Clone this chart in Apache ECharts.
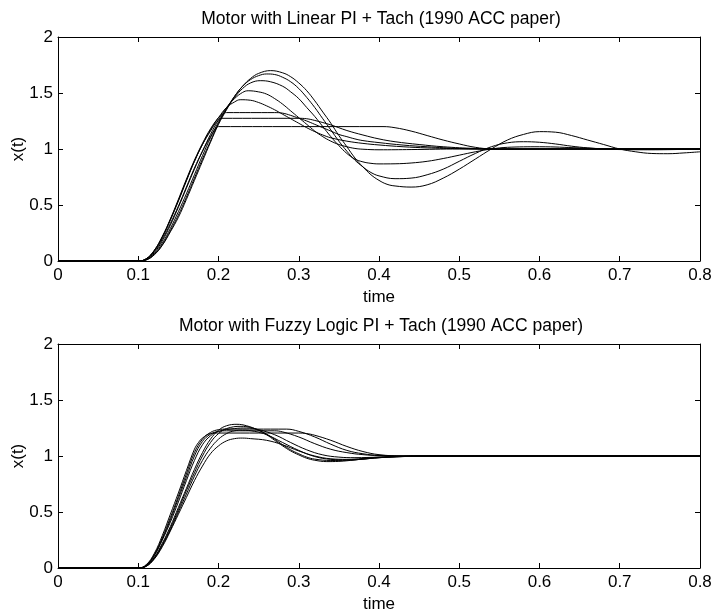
<!DOCTYPE html>
<html>
<head>
<meta charset="utf-8">
<script src="https://cdn.jsdelivr.net/npm/echarts@6/dist/echarts.min.js"></script>
<style>
html,body{margin:0;padding:0;background:#fff;}
#chart{width:726px;height:611px;}
</style>
</head>
<body>
<div id="chart"></div>
<script>
// ---------- Data ----------
const titles = ['Motor with Linear PI + Tach (1990 ACC paper)', 'Motor with Fuzzy Logic PI + Tach (1990 ACC paper)'];
const xLabel = 'time';
const yLabel = 'x(t)';

// Top panel: Linear PI responses, [time, x(t)]
const lin1 = [[0,0],[0.1,0],[0.11,0.01],[0.12,0.055],[0.13,0.14],[0.14,0.26],[0.15,0.39],[0.16,0.55],[0.17,0.72],[0.18,0.89],[0.19,1.06],[0.20,1.22],[0.21,1.35],[0.22,1.47],[0.23,1.56],[0.24,1.63],[0.25,1.675],[0.265,1.70],[0.28,1.68],[0.29,1.645],[0.30,1.59],[0.31,1.52],[0.32,1.43],[0.33,1.33],[0.34,1.23],[0.35,1.12],[0.36,1.02],[0.37,0.92],[0.38,0.84],[0.39,0.77],[0.40,0.72],[0.41,0.685],[0.42,0.67],[0.44,0.66],[0.46,0.68],[0.48,0.74],[0.50,0.82],[0.52,0.91],[0.54,1.0],[0.56,1.08],[0.58,1.13],[0.60,1.155],[0.62,1.15],[0.64,1.12],[0.66,1.08],[0.68,1.04],[0.70,1.0],[0.72,0.975],[0.74,0.96],[0.76,0.958],[0.78,0.965],[0.80,0.975]];
const lin2 = [[0,0],[0.1,0],[0.11,0.01],[0.12,0.058],[0.13,0.145],[0.14,0.27],[0.15,0.41],[0.16,0.57],[0.17,0.74],[0.18,0.91],[0.19,1.07],[0.20,1.23],[0.21,1.36],[0.22,1.47],[0.23,1.56],[0.24,1.62],[0.25,1.655],[0.26,1.67],[0.27,1.665],[0.28,1.64],[0.29,1.60],[0.30,1.54],[0.31,1.46],[0.32,1.37],[0.33,1.27],[0.34,1.17],[0.35,1.07],[0.36,0.98],[0.37,0.90],[0.38,0.84],[0.39,0.79],[0.40,0.76],[0.42,0.735],[0.44,0.74],[0.46,0.77],[0.48,0.82],[0.50,0.89],[0.52,0.96],[0.54,1.02],[0.56,1.055],[0.58,1.065],[0.60,1.06],[0.62,1.045],[0.64,1.025],[0.66,1.01],[0.68,1.0],[0.70,0.995],[0.74,0.993],[0.80,1.0]];
const lin3 = [[0,0],[0.1,0],[0.11,0.012],[0.12,0.065],[0.13,0.16],[0.14,0.29],[0.15,0.44],[0.16,0.60],[0.17,0.77],[0.18,0.94],[0.19,1.10],[0.20,1.24],[0.21,1.36],[0.22,1.46],[0.23,1.54],[0.24,1.59],[0.252,1.61],[0.265,1.60],[0.28,1.56],[0.29,1.51],[0.30,1.45],[0.31,1.37],[0.32,1.29],[0.33,1.20],[0.34,1.11],[0.35,1.03],[0.36,0.96],[0.37,0.91],[0.38,0.885],[0.39,0.872],[0.40,0.867],[0.42,0.868],[0.44,0.875],[0.46,0.89],[0.48,0.915],[0.50,0.945],[0.52,0.975],[0.54,1.0],[0.56,1.015],[0.60,1.02],[0.65,1.01],[0.70,1.0],[0.80,1.0]];
const lin4 = [[0,0],[0.1,0],[0.11,0.015],[0.12,0.075],[0.13,0.18],[0.14,0.32],[0.15,0.48],[0.16,0.65],[0.17,0.82],[0.18,0.98],[0.19,1.13],[0.20,1.26],[0.21,1.37],[0.22,1.45],[0.23,1.505],[0.237,1.52],[0.25,1.51],[0.26,1.49],[0.27,1.45],[0.28,1.40],[0.29,1.34],[0.30,1.28],[0.31,1.22],[0.32,1.16],[0.33,1.11],[0.34,1.07],[0.35,1.04],[0.36,1.02],[0.37,1.005],[0.38,0.998],[0.40,0.993],[0.44,0.995],[0.50,1.0],[0.80,1.0]];
const lin5 = [[0,0],[0.1,0],[0.11,0.018],[0.12,0.09],[0.13,0.21],[0.14,0.37],[0.15,0.54],[0.16,0.72],[0.17,0.89],[0.18,1.04],[0.19,1.17],[0.20,1.28],[0.21,1.37],[0.22,1.42],[0.227,1.44],[0.24,1.435],[0.25,1.415],[0.26,1.385],[0.27,1.35],[0.28,1.31],[0.29,1.27],[0.30,1.23],[0.31,1.19],[0.32,1.155],[0.33,1.125],[0.34,1.10],[0.36,1.07],[0.38,1.05],[0.40,1.036],[0.43,1.02],[0.46,1.01],[0.50,1.003],[0.55,1.0],[0.80,1.0]];
const lin6 = [[0,0],[0.1,0],[0.11,0.02],[0.12,0.095],[0.13,0.22],[0.14,0.375],[0.15,0.55],[0.16,0.73],[0.17,0.90],[0.18,1.05],[0.19,1.18],[0.20,1.28],[0.205,1.31],[0.21,1.325],[0.27,1.325],[0.28,1.32],[0.29,1.30],[0.30,1.275],[0.31,1.25],[0.32,1.22],[0.33,1.19],[0.34,1.16],[0.35,1.13],[0.36,1.11],[0.37,1.09],[0.38,1.075],[0.40,1.057],[0.43,1.035],[0.46,1.02],[0.50,1.005],[0.55,1.0],[0.80,1.0]];
const lin7 = [[0,0],[0.1,0],[0.11,0.02],[0.12,0.095],[0.13,0.215],[0.14,0.365],[0.15,0.535],[0.16,0.715],[0.17,0.89],[0.18,1.04],[0.19,1.16],[0.198,1.245],[0.204,1.274],[0.30,1.274],[0.31,1.27],[0.32,1.255],[0.34,1.215],[0.36,1.165],[0.38,1.125],[0.40,1.09],[0.42,1.065],[0.45,1.04],[0.48,1.02],[0.52,1.005],[0.56,1.0],[0.80,1.0]];
const lin8 = [[0,0],[0.1,0],[0.11,0.018],[0.12,0.085],[0.13,0.195],[0.14,0.335],[0.15,0.49],[0.16,0.66],[0.17,0.83],[0.18,0.98],[0.19,1.11],[0.196,1.18],[0.2,1.20],[0.405,1.20],[0.42,1.19],[0.44,1.16],[0.46,1.12],[0.48,1.08],[0.50,1.045],[0.52,1.015],[0.54,1.0],[0.56,0.997],[0.60,1.0],[0.80,1.0]];

// Bottom panel: Fuzzy Logic PI responses, [time, x(t)]
const fz1 = [[0,0],[0.1,0],[0.11,0.03],[0.12,0.13],[0.13,0.29],[0.14,0.48],[0.15,0.67],[0.16,0.87],[0.17,1.06],[0.175,1.12],[0.18,1.16],[0.19,1.20],[0.20,1.205],[0.30,1.205],[0.31,1.20],[0.32,1.185],[0.34,1.14],[0.36,1.085],[0.38,1.04],[0.40,1.012],[0.43,1.0],[0.80,1.0]];
const fz2 = [[0,0],[0.1,0],[0.11,0.025],[0.12,0.12],[0.13,0.27],[0.14,0.45],[0.15,0.64],[0.16,0.84],[0.17,1.03],[0.18,1.15],[0.19,1.21],[0.20,1.235],[0.21,1.24],[0.285,1.24],[0.30,1.22],[0.32,1.17],[0.34,1.105],[0.36,1.05],[0.38,1.02],[0.40,1.005],[0.44,1.0],[0.80,1.0]];
const fz3 = [[0,0],[0.1,0],[0.11,0.025],[0.12,0.115],[0.13,0.26],[0.14,0.43],[0.15,0.62],[0.16,0.81],[0.17,1.0],[0.18,1.13],[0.19,1.195],[0.20,1.22],[0.21,1.225],[0.27,1.225],[0.28,1.215],[0.30,1.17],[0.32,1.11],[0.34,1.06],[0.36,1.03],[0.38,1.012],[0.40,1.004],[0.45,1.0],[0.80,1.0]];
const fz4 = [[0,0],[0.1,0],[0.11,0.022],[0.12,0.11],[0.13,0.25],[0.14,0.41],[0.15,0.59],[0.16,0.78],[0.17,0.96],[0.18,1.10],[0.19,1.18],[0.20,1.22],[0.22,1.245],[0.235,1.25],[0.25,1.235],[0.27,1.19],[0.29,1.12],[0.31,1.055],[0.33,1.01],[0.35,0.99],[0.37,0.985],[0.40,0.99],[0.45,1.0],[0.80,1.0]];
const fz5 = [[0,0],[0.1,0],[0.11,0.02],[0.12,0.095],[0.13,0.22],[0.14,0.37],[0.15,0.54],[0.16,0.71],[0.17,0.88],[0.18,1.03],[0.19,1.15],[0.20,1.23],[0.21,1.27],[0.223,1.283],[0.235,1.27],[0.25,1.23],[0.26,1.19],[0.27,1.14],[0.28,1.09],[0.29,1.045],[0.30,1.01],[0.31,0.98],[0.32,0.962],[0.335,0.95],[0.35,0.952],[0.37,0.965],[0.39,0.98],[0.42,0.993],[0.46,1.0],[0.80,1.0]];
const fz6 = [[0,0],[0.1,0],[0.11,0.018],[0.12,0.09],[0.13,0.21],[0.14,0.355],[0.15,0.52],[0.16,0.69],[0.17,0.85],[0.18,1.0],[0.19,1.12],[0.20,1.20],[0.21,1.245],[0.228,1.265],[0.24,1.255],[0.25,1.23],[0.26,1.195],[0.27,1.15],[0.28,1.10],[0.29,1.055],[0.30,1.02],[0.31,0.99],[0.32,0.972],[0.34,0.96],[0.36,0.962],[0.38,0.972],[0.40,0.985],[0.43,0.995],[0.47,1.0],[0.80,1.0]];
const fz7 = [[0,0],[0.1,0],[0.11,0.016],[0.12,0.085],[0.13,0.20],[0.14,0.34],[0.15,0.50],[0.16,0.66],[0.17,0.82],[0.18,0.96],[0.19,1.07],[0.20,1.15],[0.21,1.20],[0.22,1.225],[0.23,1.23],[0.245,1.22],[0.26,1.19],[0.28,1.12],[0.30,1.05],[0.32,0.995],[0.34,0.97],[0.36,0.965],[0.38,0.972],[0.40,0.985],[0.44,0.997],[0.48,1.0],[0.80,1.0]];
const fz8 = [[0,0],[0.1,0],[0.11,0.015],[0.12,0.08],[0.13,0.19],[0.14,0.33],[0.15,0.48],[0.16,0.63],[0.17,0.78],[0.18,0.91],[0.19,1.02],[0.20,1.09],[0.21,1.135],[0.22,1.155],[0.23,1.16],[0.24,1.155],[0.26,1.14],[0.28,1.10],[0.30,1.045],[0.32,1.0],[0.34,0.975],[0.36,0.97],[0.38,0.978],[0.40,0.99],[0.44,0.998],[0.50,1.0],[0.80,1.0]];

const linearSeries = [lin1, lin2, lin3, lin4, lin5, lin6, lin7, lin8];
const fuzzySeries = [fz1, fz2, fz3, fz4, fz5, fz6, fz7, fz8];

const xMin = 0, xMax = 0.8, xStep = 0.1;
const yMin = 0, yMax = 2, yStep = 0.5;

// ---------- Chart ----------
const FONT = 'Liberation Sans, Arial, Helvetica, sans-serif';
const chart = echarts.init(document.getElementById('chart'), null, {renderer: 'canvas'});

const gridLeft = 58, gridWidth = 642, gridHeight = 224;
const gridTops = [37, 344];

function xAxes(gi) {
  const base = {
    type: 'value', gridIndex: gi, min: xMin, max: xMax, interval: xStep,
    axisLine: {show: true, onZero: false, lineStyle: {color: '#000', width: 1}},
    axisTick: {show: true, inside: true, length: 5, lineStyle: {color: '#000'}},
    splitLine: {show: false}
  };
  return [
    Object.assign({}, base, {
      position: 'bottom',
      name: xLabel, nameLocation: 'middle', nameGap: 28, nameMoveOverlap: false,
      nameTextStyle: {fontFamily: FONT, fontSize: 17, color: '#000'},
      axisLabel: {show: true, fontFamily: FONT, fontSize: 17, color: '#000', margin: 6}
    }),
    Object.assign({}, base, {position: 'top', axisLabel: {show: false}})
  ];
}
function yAxes(gi) {
  const base = {
    type: 'value', gridIndex: gi, min: yMin, max: yMax, interval: yStep,
    axisLine: {show: true, onZero: false, lineStyle: {color: '#000', width: 1}},
    axisTick: {show: true, inside: true, length: 5, lineStyle: {color: '#000'}},
    splitLine: {show: false}
  };
  return [
    Object.assign({}, base, {
      position: 'left',
      name: yLabel, nameLocation: 'middle', nameGap: 31, nameRotate: 90, nameMoveOverlap: false,
      nameTextStyle: {fontFamily: FONT, fontSize: 17, color: '#000'},
      axisLabel: {show: true, fontFamily: FONT, fontSize: 17, color: '#000', margin: 5}
    }),
    Object.assign({}, base, {position: 'right', axisLabel: {show: false}})
  ];
}

const series = [];
linearSeries.forEach(d => series.push({
  type: 'line', xAxisIndex: 0, yAxisIndex: 0, data: d, showSymbol: false,
  smooth: 0.4, lineStyle: {color: '#000', width: 1}, silent: true
}));
fuzzySeries.forEach(d => series.push({
  type: 'line', xAxisIndex: 2, yAxisIndex: 2, data: d, showSymbol: false,
  smooth: 0.4, lineStyle: {color: '#000', width: 1}, silent: true
}));

chart.setOption({
  animation: false,
  backgroundColor: '#fff',
  title: titles.map((t, i) => ({
    text: t, left: 376, textAlign: 'center',
    top: gridTops[i] - 32,
    textStyle: {fontFamily: FONT, fontSize: 17.5, fontWeight: 'normal', color: '#000'}
  })),
  grid: gridTops.map(tp => ({left: gridLeft, top: tp, width: gridWidth, height: gridHeight, containLabel: false, outerBoundsMode: 'none'})),
  xAxis: [].concat(xAxes(0), xAxes(1)),
  yAxis: [].concat(yAxes(0), yAxes(1)),
  series: series
});
</script>
</body>
</html>
